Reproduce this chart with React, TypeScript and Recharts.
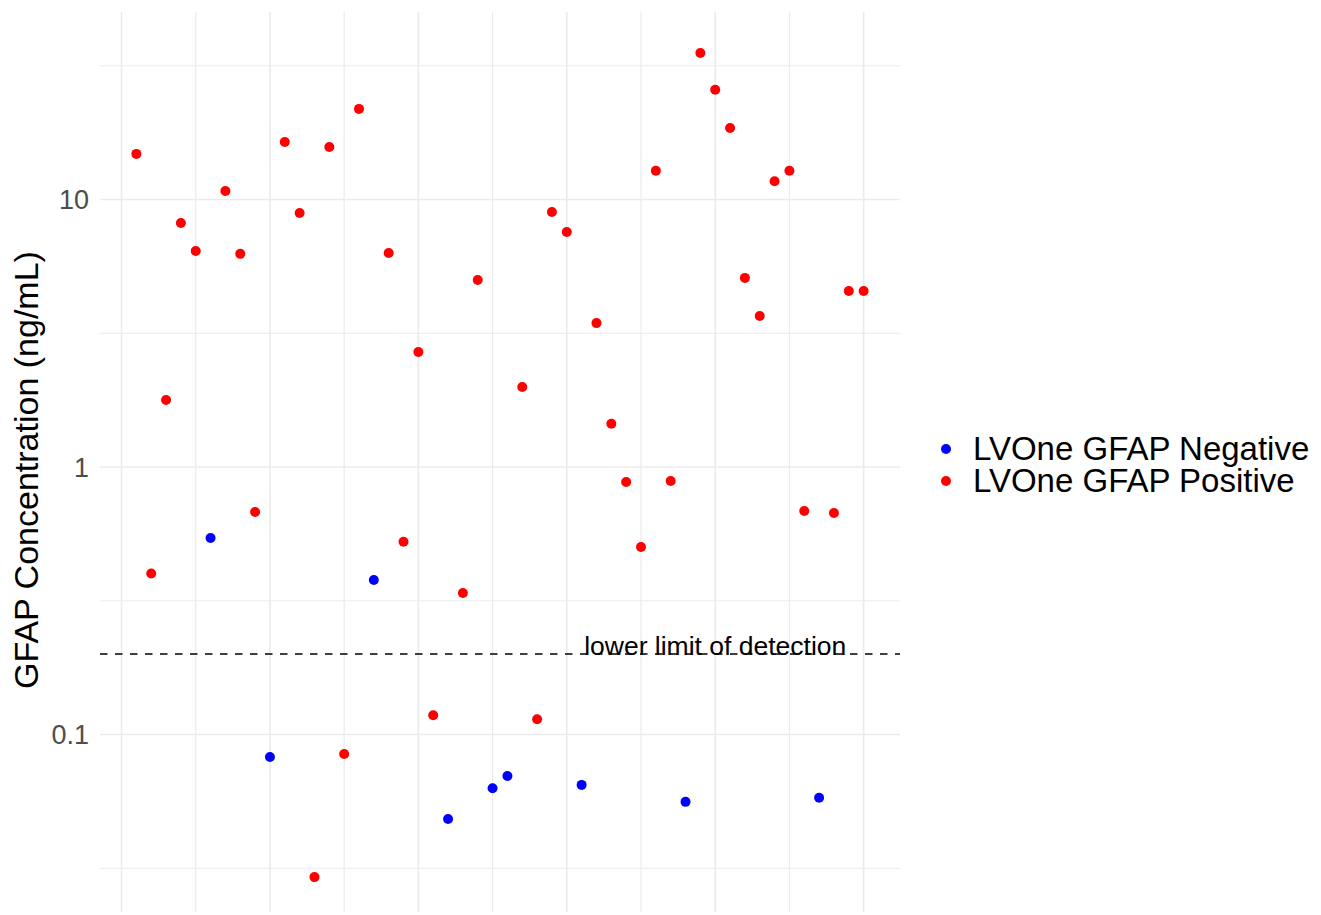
import {
  ScatterChart,
  Scatter,
  XAxis,
  YAxis,
  ReferenceLine,
  ReferenceDot,
  Legend
} from "recharts";

// sample position along x and measured GFAP (ng/mL), split by LVOne call
const negativeSamples = [6, 10, 17, 22, 25, 26, 31, 38, 47];
const negativeValues = [0.543, 0.0824, 0.378, 0.0483, 0.063, 0.07, 0.0648, 0.056, 0.058];

const positiveSamples = [
  1, 2, 3, 4, 5, 7, 8, 9, 11, 12, 13, 14, 15, 16, 18, 19, 20, 21, 23, 24, 27,
  28, 29, 30, 32, 33, 34, 35, 36, 37, 39, 40, 41, 42, 43, 44, 45, 46, 48, 49, 50
];
const positiveValues = [
  14.8, 0.4, 1.78, 8.17, 6.42, 10.76, 6.26, 0.679, 16.4, 8.9, 0.0293, 15.7,
  0.0846, 21.8, 6.31, 0.525, 2.69, 0.118, 0.338, 5.0, 1.99, 0.114, 8.98, 7.56,
  3.45, 1.45, 0.879, 0.502, 12.8, 0.886, 35.3, 25.7, 18.5, 5.09, 3.67, 11.7,
  12.8, 0.685, 0.673, 4.55, 4.55
];

const yMajorTicks = [0.1, 1, 10];
const yMinorTicks = [0.0316, 0.316, 3.16, 31.6];
const xMajorTicks = [0, 10, 20, 30, 40, 50];
const xMinorTicks = [5, 15, 25, 35, 45];

const detectionLimit = 0.2;
const detectionLabelX = 40;

const xDomain = [-1.45, 52.45];
const yDomain = [0.0217, 50.2];

const FONT = '"Liberation Sans", Arial, Helvetica, sans-serif';
const GRID = "#ebebeb";

const negativeData = negativeSamples.map((x, i) => ({ x, y: negativeValues[i] }));
const positiveData = positiveSamples.map((x, i) => ({ x, y: positiveValues[i] }));

const dot = (p: any) => <circle cx={p.cx} cy={p.cy} r={5} fill={p.fill} />;

function renderLegend(props: any) {
  const { payload } = props;
  return (
    <div style={{ fontFamily: FONT, fontSize: 33, color: "#000", paddingLeft: 0 }}>
      {payload.map((entry: any) => (
        <div
          key={entry.value}
          style={{ display: "flex", alignItems: "center", height: 32, lineHeight: "32px" }}
        >
          <svg width={16} height={16}>
            <circle cx={8} cy={8} r={5} fill={entry.color} />
          </svg>
          <span style={{ marginLeft: 19, whiteSpace: "nowrap" }}>{entry.value}</span>
        </div>
      ))}
    </div>
  );
}

function renderAxisTitle(props: any) {
  const vb = props.viewBox;
  const x = vb.x + 38;
  const y = vb.y + vb.height / 2 + 8;
  return (
    <text
      x={x}
      y={y}
      transform={`rotate(-90 ${x} ${y})`}
      textAnchor="middle"
      fontFamily={FONT}
      fontSize={34}
      fill="#000"
    >
      GFAP Concentration (ng/mL)
    </text>
  );
}

export default function App() {
  return (
    <div style={{ position: "absolute", left: 0, top: 0, background: "#fff" }}>
      <ScatterChart
        width={1321}
        height={915}
        margin={{ top: 12, right: 38, bottom: 3, left: 0 }}
      >
        <XAxis type="number" dataKey="x" domain={xDomain} hide allowDataOverflow />
        <YAxis
          type="number"
          dataKey="y"
          scale="log"
          domain={yDomain}
          allowDataOverflow
          ticks={yMajorTicks}
          tickFormatter={(v: number) => String(v)}
          width={100}
          axisLine={false}
          tickLine={false}
          tickMargin={5}
          tick={{ fill: "#4d4d4d", fontSize: 27, fontFamily: FONT }}
          label={{ content: renderAxisTitle }}
        />

        {yMinorTicks.map((v) => (
          <ReferenceLine key={`ym${v}`} y={v} stroke={GRID} strokeWidth={1} />
        ))}
        {yMajorTicks.map((v) => (
          <ReferenceLine key={`yM${v}`} y={v} stroke={GRID} strokeWidth={1.6} />
        ))}
        {xMinorTicks.map((v) => (
          <ReferenceLine key={`xm${v}`} x={v} stroke={GRID} strokeWidth={1.2} />
        ))}
        {xMajorTicks.map((v) => (
          <ReferenceLine key={`xM${v}`} x={v} stroke={GRID} strokeWidth={1.6} />
        ))}

        <ReferenceLine
          y={detectionLimit}
          stroke="#000"
          strokeWidth={1.4}
          strokeDasharray="7.5 7.5"
        />
        <ReferenceDot
          x={detectionLabelX}
          y={detectionLimit}
          r={0}
          shape={(p: any) => (
            <text
              x={p.cx}
              y={p.cy + 1}
              textAnchor="middle"
              fontFamily={FONT}
              fontSize={26.5}
              fill="#000"
            >
              lower limit of detection
            </text>
          )}
        />

        <Scatter
          name="LVOne GFAP Negative"
          data={negativeData}
          fill="#0000ff"
          shape={dot}
          isAnimationActive={false}
        />
        <Scatter
          name="LVOne GFAP Positive"
          data={positiveData}
          fill="#ff0000"
          shape={dot}
          isAnimationActive={false}
        />

        <Legend
          layout="vertical"
          align="right"
          verticalAlign="middle"
          content={renderLegend}
          wrapperStyle={{ left: 938, top: 433, width: 383 }}
        />
      </ScatterChart>
    </div>
  );
}
